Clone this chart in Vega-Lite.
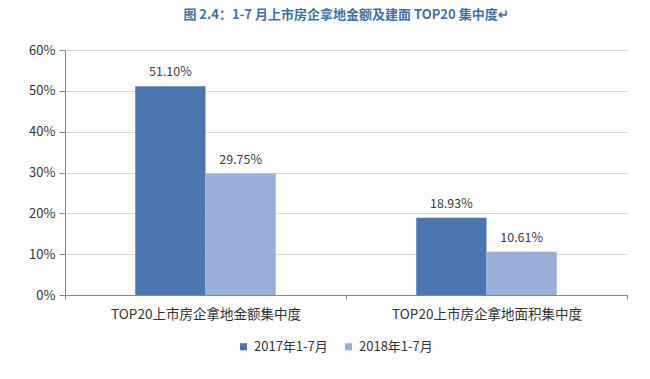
{
  "$schema": "https://vega.github.io/schema/vega-lite/v6.json",
  "width": 562,
  "height": 245,
  "autosize": {"type": "none"},
  "padding": {"left": 65, "top": 50, "right": 23, "bottom": 84},
  "background": "white",
  "title": {
    "text": "图 2.4：1-7 月上市房企拿地金额及建面 TOP20 集中度↵",
    "anchor": "middle",
    "frame": "group",
    "offset": 22,
    "font": "Noto Sans CJK SC",
    "fontSize": 13,
    "fontWeight": "bold",
    "color": "#4470A8"
  },
  "config": {
    "font": "Noto Sans CJK SC",
    "view": {"stroke": null},
    "axis": {"labelFont": "Noto Sans CJK SC", "labelColor": "#333333"}
  },
  "data": {
    "values": [
      {"category": "TOP20上市房企拿地金额集中度", "series": "2017年1-7月", "value": 0.5110},
      {"category": "TOP20上市房企拿地金额集中度", "series": "2018年1-7月", "value": 0.2975},
      {"category": "TOP20上市房企拿地面积集中度", "series": "2017年1-7月", "value": 0.1893},
      {"category": "TOP20上市房企拿地面积集中度", "series": "2018年1-7月", "value": 0.1061}
    ]
  },
  "encoding": {
    "x": {
      "field": "category",
      "type": "nominal",
      "sort": null,
      "scale": {"paddingInner": 0, "paddingOuter": 0},
      "axis": {
        "title": null,
        "labelAngle": 0,
        "labelFontSize": 13.5,
        "labelPadding": 8,
        "labelLimit": 400,
        "tickBand": "extent",
        "domainColor": "#888888",
        "tickColor": "#888888",
        "tickSize": 4,
        "grid": false
      }
    },
    "xOffset": {
      "field": "series",
      "type": "nominal",
      "sort": null,
      "scale": {"paddingInner": 0, "paddingOuter": 1.02}
    },
    "y": {
      "field": "value",
      "type": "quantitative",
      "scale": {"domain": [0, 0.6], "nice": false},
      "axis": {
        "title": null,
        "format": ".0%",
        "values": [0, 0.1, 0.2, 0.3, 0.4, 0.5, 0.6],
        "labelOverlap": false,
        "labelFlush": false,
        "labelFontSize": 13,
        "labelPadding": 4,
        "domainColor": "#888888",
        "tickColor": "#888888",
        "tickSize": 6,
        "gridColor": "#D9D9D9",
        "gridWidth": 1
      }
    }
  },
  "layer": [
    {
      "mark": {"type": "bar"},
      "encoding": {
        "color": {
          "field": "series",
          "type": "nominal",
          "sort": null,
          "scale": {"range": ["#4A76B2", "#9AAFD9"]},
          "legend": {
            "title": null,
            "orient": "none",
            "direction": "horizontal",
            "legendX": 172,
            "legendY": 290,
            "symbolType": "square",
            "symbolSize": 50,
            "labelFontSize": 13,
            "labelColor": "#333333",
            "columnPadding": 14,
            "symbolOffset": 0
          }
        }
      }
    },
    {
      "mark": {"type": "text", "baseline": "bottom", "dy": -7, "fontSize": 12.5, "color": "#404040"},
      "encoding": {
        "text": {"field": "value", "type": "quantitative", "format": ".2%"}
      }
    }
  ]
}
